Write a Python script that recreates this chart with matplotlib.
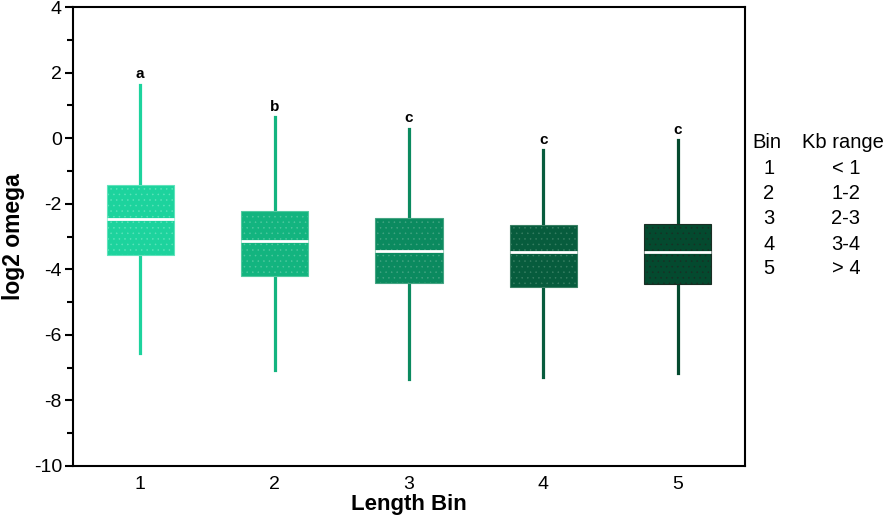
import matplotlib
matplotlib.use("Agg")
import matplotlib.pyplot as plt
from matplotlib.ticker import MultipleLocator

plt.rcParams['font.family'] = ['Liberation Sans', 'DejaVu Sans']
plt.rcParams['axes.unicode_minus'] = False
plt.rcParams['hatch.linewidth'] = 0.35

bins = [1, 2, 3, 4, 5]
whisker_low = [-6.55, -7.06, -7.35, -7.28, -7.17]
q1 = [-3.55, -4.20, -4.42, -4.53, -4.44]
medians = [-2.48, -3.13, -3.43, -3.46, -3.46]
q3 = [-1.44, -2.21, -2.45, -2.64, -2.61]
whisker_high = [1.63, 0.64, 0.28, -0.37, -0.07]
letters = ['a', 'b', 'c', 'c', 'c']
colors = ['#1dd39d', '#13b47f', '#0b8a5f', '#075c3d', '#044a2f']
dot_colors = ['#5fe3bb', '#52c9a0', '#45a583', '#3a8064', '#1a2e24']
legend_bins = ['1', '2', '3', '4', '5']
legend_ranges = ['< 1', '1-2', '2-3', '3-4', '> 4']

fig = plt.figure(figsize=(8.94, 5.18), dpi=100)
ax = fig.add_axes([73/894, 1 - 466/518, (745-73)/894, (466-7)/518])

stats = []
for i in range(len(bins)):
    stats.append(dict(med=medians[i], q1=q1[i], q3=q3[i],
                      whislo=whisker_low[i], whishi=whisker_high[i], fliers=[]))

bp = ax.bxp(stats, positions=bins, widths=0.5, patch_artist=True,
            showcaps=False, showfliers=False)
for i, c in enumerate(colors):
    box = bp['boxes'][i]
    box.set_facecolor(c)
    box.set_edgecolor(dot_colors[i])
    box.set_hatch('...')
    box.set_linewidth(0.8)
    box.set_zorder(3)
    bp['medians'][i].set_color('white')
    bp['medians'][i].set_linewidth(2.0)
    bp['medians'][i].set_zorder(4)
    for w in bp['whiskers'][2*i:2*i+2]:
        w.set_color(c)
        w.set_linewidth(2.3)
        w.set_zorder(2)

for i in range(len(bins)):
    ax.annotate(letters[i], (bins[i], whisker_high[i]), xytext=(0, 2.5),
                textcoords='offset points', ha='center', va='bottom',
                fontsize=11, fontweight='bold')

ax.set_xlim(0.5, 5.5)
ax.set_ylim(-10, 4)
ax.set_xticks(bins)
ax.set_xticklabels([str(b) for b in bins])
ax.yaxis.set_major_locator(MultipleLocator(2))
ax.yaxis.set_minor_locator(MultipleLocator(1))
ax.tick_params(axis='x', length=0, labelsize=14, pad=7)
ax.tick_params(axis='y', which='major', length=6, width=1.5, labelsize=14, direction='out', pad=2)
ax.tick_params(axis='y', which='minor', length=4, width=1.5, direction='out')
for s in ax.spines.values():
    s.set_linewidth(1.5)

ax.set_xlabel('Length Bin', fontsize=16, fontweight='bold', labelpad=1)
ax.set_ylabel('log2 omega', fontsize=16.5, fontweight='bold')
ax.yaxis.set_label_coords(-0.071, 0.5)

# side legend table
fs = 14.5
fig.text(752/894, 1 - 143/518, 'Bin', fontsize=fs, va='center', ha='left')
fig.text(802/894, 1 - 143/518, 'Kb range', fontsize=fs, va='center', ha='left')
for k in range(len(legend_bins)):
    y = 1 - (169 + k * 25) / 518
    fig.text(769/894, y, legend_bins[k], fontsize=fs, va='center', ha='center')
    fig.text(846/894, y, legend_ranges[k], fontsize=fs, va='center', ha='center')

fig.savefig('out.png', dpi=100)
